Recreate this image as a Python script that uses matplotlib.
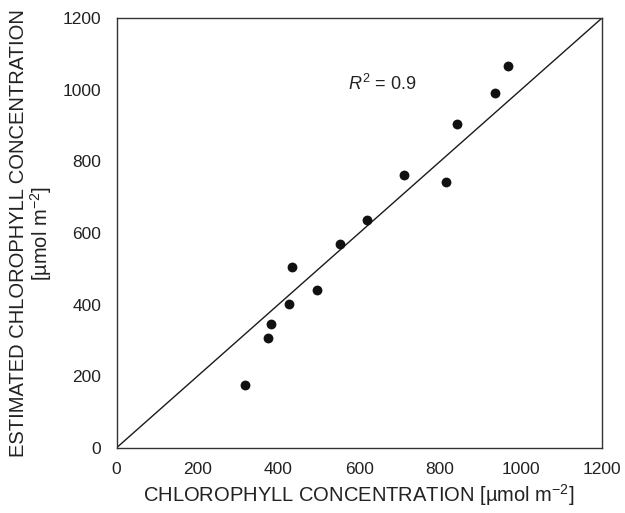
import matplotlib
matplotlib.use("Agg")
import matplotlib.pyplot as plt

plt.rcParams['font.family'] = ['Liberation Sans', 'DejaVu Sans']
plt.rcParams['mathtext.fontset'] = 'custom'
plt.rcParams['mathtext.rm'] = 'Liberation Sans'
plt.rcParams['mathtext.it'] = 'Liberation Sans:italic'
plt.rcParams['mathtext.bf'] = 'Liberation Sans:bold'

measured = [317, 375, 382, 426, 433, 495, 553, 619, 712, 816, 841, 936, 967]
estimated = [175, 306, 347, 402, 504, 442, 570, 635, 763, 743, 906, 990, 1068]
ticks = [0, 200, 400, 600, 800, 1000, 1200]
r2_text = r"$\mathit{R}^{2}$ = 0.9"

fig = plt.figure(figsize=(6.25, 5.13), dpi=100)
ax = fig.add_axes([0.1867, 0.1273, 0.776, 0.8370])

ax.plot([0, 1200], [0, 1200], color='#1a1a1a', lw=1.0, zorder=2)
ax.scatter(measured, estimated, s=50, color='#111111', zorder=3, linewidths=0)

ax.set_xlim(0, 1200)
ax.set_ylim(0, 1200)
ax.set_xticks(ticks)
ax.set_yticks(ticks)
ax.tick_params(length=0, labelsize=12.5, colors='#222222')
ax.tick_params(axis='x', pad=10)
ax.tick_params(axis='y', pad=11)
for s in ax.spines.values():
    s.set_color('#333333')
    s.set_linewidth(1.0)

ax.set_xlabel(r"CHLOROPHYLL CONCENTRATION [µmol m$^{-2}$]", fontsize=14.5, color='#222222', labelpad=4)
ax.set_ylabel("ESTIMATED CHLOROPHYLL CONCENTRATION\n" + r"[µmol m$^{-2}$]", fontsize=14.5, color='#222222', labelpad=6, linespacing=1.05)

ax.text(656, 1016, r2_text, fontsize=13, ha='center', va='center', color='#222222')

fig.savefig("out.png", dpi=100)
